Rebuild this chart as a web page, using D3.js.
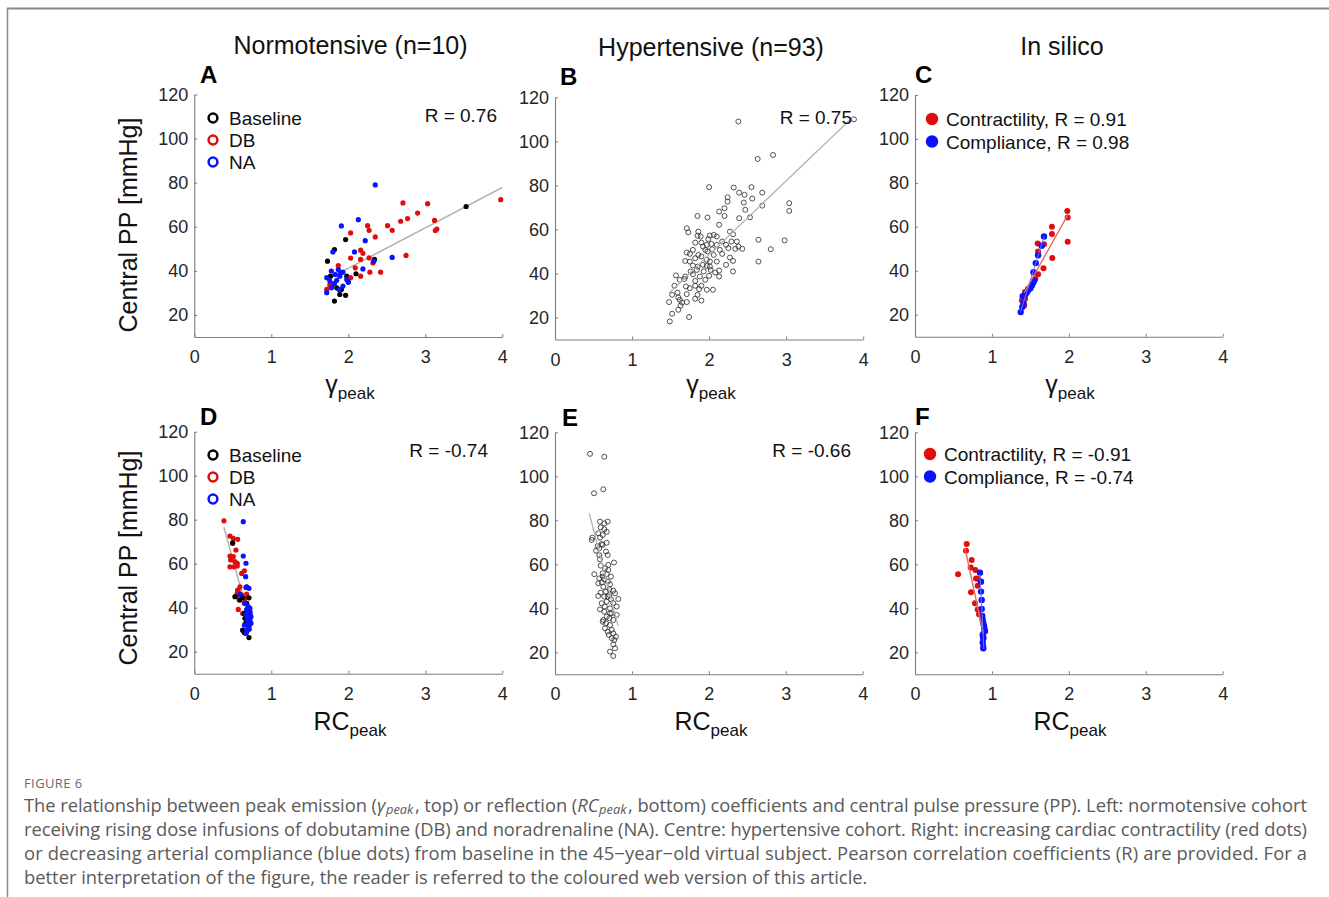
<!DOCTYPE html>
<html><head><meta charset="utf-8">
<script src="https://cdn.jsdelivr.net/npm/d3@7"></script>
<style>body{margin:0;background:#fff} svg{display:block}</style>
</head><body>
<svg id="c" width="1329" height="897"></svg>
<script>
// ---------- data ----------
const xTicks=[0,1,2,3,4];
const yTicks=[20,40,60,80,100,120];
const xDomain=[0,4];
const yDomain=[10,120];
const columnTitles=["Normotensive (n=10)","Hypertensive (n=93)","In silico"];
const panelLetters=["A","B","C","D","E","F"];
const rLabels=["R = 0.76","R = 0.75","R = -0.74","R = -0.66"];
const groupLegend=["Baseline","DB","NA"];
const silicoLegendTop=["Contractility, R = 0.91","Compliance, R = 0.98"];
const silicoLegendBottom=["Contractility, R = -0.91","Compliance, R = -0.74"];

// Panel A: gamma_peak vs central PP (normotensive)
const aBaseline=[[3.53,69.2],[1.965,54.2],[1.82,49.7],[1.73,44.4],[2.34,45.2],[2.10,38.7],[1.77,37.6],[1.98,37.6],[2.00,34.9],[1.85,32.3],[1.89,29.3],[1.965,28.9],[1.82,26.3],[1.78,33.1],[1.91,31.6]];
const aDB=[[3.98,72.3],[2.71,70.8],[3.03,70.5],[2.90,66.2],[2.68,62.5],[2.77,63.7],[3.12,62.9],[3.15,59.0],[3.13,58.3],[2.51,60.5],[2.57,58.4],[2.25,60.5],[2.27,58.4],[2.35,55.4],[2.03,57.2],[2.16,49.4],[2.19,47.9],[2.03,45.8],[2.16,45.2],[2.27,45.9],[2.32,43.6],[2.75,47.0],[2.09,41.4],[1.87,42.4],[2.28,39.4],[2.42,39.4],[2.16,37.6],[2.03,36.9],[1.72,31.6],[1.76,33.6]];
const aNA=[[2.35,79.0],[2.13,63.2],[1.91,60.4],[2.22,53.7],[1.80,48.6],[2.08,48.6],[2.57,46.1],[2.33,44.4],[2.19,40.9],[1.78,39.9],[1.87,40.6],[1.93,39.4],[1.83,38.4],[1.89,37.6],[1.98,36.1],[1.72,36.9],[1.76,35.4],[1.85,35.7],[1.78,32.3],[1.93,33.1],[1.88,31.6],[1.72,30.1],[2.00,34.9],[1.82,34.3],[1.90,39.0]];
const aFit=[[1.71,35.9],[4.0,77.8]];

// Panel B: gamma_peak vs central PP (hypertensive)
const bPoints=[[3.88,110.0],[2.38,109.0],[2.63,92.0],[2.83,93.8],[2.00,79.2],[2.32,79.0],[2.55,79.2],[2.39,76.7],[2.69,76.7],[2.46,75.7],[2.24,74.6],[2.56,74.0],[2.24,72.6],[2.45,72.2],[3.04,71.9],[2.69,70.8],[2.20,69.6],[2.47,68.9],[2.13,68.1],[3.04,68.4],[2.20,66.1],[1.85,66.1],[1.98,65.4],[2.39,65.1],[2.53,65.5],[2.13,62.1],[1.71,60.5],[1.73,58.7],[1.86,59.0],[1.85,57.1],[2.27,59.0],[2.31,57.8],[2.01,57.2],[2.06,57.5],[2.10,56.8],[1.90,54.0],[1.97,53.0],[2.03,53.4],[2.17,54.5],[2.22,53.0],[2.29,54.5],[2.36,54.5],[2.38,52.2],[2.34,51.2],[2.64,55.3],[2.98,55.0],[2.80,51.0],[2.43,51.2],[2.25,51.5],[2.10,53.0],[1.92,52.2],[1.95,50.7],[1.79,50.7],[1.71,49.5],[1.75,48.9],[1.86,48.4],[1.98,50.0],[2.06,48.4],[2.17,48.9],[2.04,51.0],[2.14,50.7],[1.69,45.7],[1.75,45.4],[1.82,46.9],[1.90,47.7],[1.97,46.2],[2.01,45.4],[2.10,45.4],[2.27,47.2],[2.31,45.7],[2.64,45.4],[1.79,43.6],[1.85,43.1],[1.92,43.9],[2.01,43.1],[2.22,43.9],[1.84,41.6],[1.76,40.9],[1.93,40.9],[2.02,41.6],[2.13,41.3],[2.31,40.9],[1.57,39.1],[1.69,38.6],[1.88,38.6],[2.00,38.9],[2.13,38.6],[1.62,37.1],[1.68,37.5],[1.82,36.6],[1.95,37.1],[1.82,34.4],[1.90,34.4],[1.55,34.4],[1.70,34.1],[1.75,33.3],[1.87,32.9],[1.97,32.6],[2.05,32.6],[1.59,31.3],[1.52,30.3],[1.71,30.6],[1.85,30.3],[1.60,29.1],[1.82,28.5],[1.90,27.7],[1.48,27.0],[1.62,28.0],[1.71,27.0],[1.65,26.8],[1.63,25.4],[1.60,23.5],[1.52,21.7],[1.74,20.2],[1.49,18.2],[1.82,54.0],[1.99,55.6],[1.89,56.8],[1.79,39.6],[2.08,40.4],[1.97,43.4]];
const bFit=[[1.48,31.1],[3.87,111.2]];

// Panel C: in silico, gamma_peak
const cContractility=[[1.98,67.2],[1.985,64.2],[1.985,53.2],[1.78,60.0],[1.78,56.7],[1.785,45.8],[1.595,52.4],[1.677,52.1],[1.60,48.8],[1.67,41.1],[1.60,38.4],[1.565,36.3],[1.54,34.5],[1.47,31.8],[1.43,30.3],[1.43,27.2],[1.39,26.5],[1.42,24.2]];
const cCompliance=[[1.374,21.2],[1.395,23.5],[1.41,25.3],[1.40,28.4],[1.43,29.0],[1.45,30.0],[1.47,31.0],[1.50,32.1],[1.52,33.3],[1.53,34.5],[1.547,35.5],[1.54,39.3],[1.57,43.5],[1.60,47.1],[1.647,51.4],[1.677,55.6]];
const cFitContractility=[[1.42,30.0],[1.985,65.3]];
const cFitCompliance=[[1.374,21.5],[1.677,55.5]];

// Panel D: RC_peak vs central PP (normotensive)
const dBaseline=[[0.498,69.5],[0.528,45.0],[0.628,44.5],[0.71,44.5],[0.68,49.5],[0.65,37.4],[0.658,35.2],[0.667,32.9],[0.628,29.8],[0.68,29.1],[0.65,28.6],[0.71,26.4],[0.68,42.0],[0.723,37.4],[0.593,43.5]];
const dDB=[[0.385,79.5],[0.463,72.6],[0.506,71.5],[0.563,71.1],[0.498,69.2],[0.541,66.2],[0.463,63.5],[0.506,63.2],[0.472,61.7],[0.528,60.9],[0.558,60.2],[0.463,58.6],[0.515,58.6],[0.558,58.9],[0.615,55.6],[0.65,56.8],[0.593,49.5],[0.563,48.0],[0.558,46.8],[0.615,45.8],[0.584,43.5],[0.658,44.2],[0.68,46.2],[0.571,39.2],[0.628,37.4],[0.701,31.4],[0.65,42.0],[0.723,33.6],[0.55,45.0],[0.57,47.7]];
const dNA=[[0.636,79.1],[0.636,63.5],[0.671,60.2],[0.667,54.1],[0.671,49.2],[0.71,48.8],[0.593,46.1],[0.658,42.0],[0.701,40.5],[0.723,39.7],[0.68,39.2],[0.714,37.4],[0.671,36.7],[0.736,35.9],[0.693,35.2],[0.723,34.4],[0.701,33.2],[0.736,32.9],[0.65,32.1],[0.71,31.4],[0.68,29.8],[0.714,30.2],[0.671,28.3],[0.723,38.2],[0.693,37.4]];
const dFit=[[0.385,76.5],[0.74,31.5]];

// Panel E: RC_peak vs central PP (hypertensive)
const ePoints=[[0.455,110.2],[0.641,108.9],[0.628,94.1],[0.507,92.3],[0.585,79.4],[0.685,79.4],[0.641,78.6],[0.594,76.8],[0.641,75.9],[0.672,74.8],[0.563,74.1],[0.62,73.3],[0.485,72.1],[0.585,72.1],[0.477,71.1],[0.672,69.8],[0.607,69.2],[0.555,68.3],[0.62,68.8],[0.576,67.3],[0.533,66.2],[0.663,65.8],[0.576,64.2],[0.685,64.2],[0.585,62.3],[0.767,60.8],[0.693,59.7],[0.594,59.4],[0.65,58.2],[0.693,57.4],[0.511,55.5],[0.62,55.9],[0.672,55.6],[0.728,54.4],[0.576,53.6],[0.641,53.2],[0.607,51.7],[0.685,52.1],[0.715,50.9],[0.563,51.4],[0.628,49.8],[0.706,48.6],[0.758,48.0],[0.663,47.6],[0.594,47.1],[0.563,45.6],[0.641,45.3],[0.706,46.1],[0.78,46.8],[0.823,44.2],[0.728,44.1],[0.672,43.0],[0.607,42.3],[0.758,42.3],[0.646,40.8],[0.715,40.0],[0.802,40.8],[0.585,39.5],[0.641,38.5],[0.737,37.7],[0.802,37.0],[0.672,36.2],[0.706,35.5],[0.628,34.7],[0.758,34.7],[0.663,33.2],[0.715,32.4],[0.65,30.9],[0.737,30.2],[0.685,29.4],[0.758,28.6],[0.698,27.9],[0.793,27.1],[0.737,26.4],[0.771,25.6],[0.758,23.6],[0.78,21.8],[0.715,20.3],[0.758,18.3],[0.62,54.4],[0.685,45.3],[0.715,37.7],[0.62,33.9]];
const eFit=[[0.446,83.2],[0.82,32.0]];

// Panel F: in silico, RC_peak
const fContractility=[[0.672,69.2],[0.663,66.2],[0.737,62.0],[0.724,58.6],[0.784,57.4],[0.56,55.5],[0.793,53.6],[0.823,53.3],[0.815,50.3],[0.728,47.3],[0.78,42.3],[0.815,39.5],[0.832,37.3],[0.888,28.6],[0.888,27.1],[0.888,22.9]];
const fCompliance=[[0.845,56.2],[0.858,52.1],[0.858,47.6],[0.867,43.8],[0.867,39.7],[0.875,36.5],[0.88,34.7],[0.888,33.2],[0.897,32.0],[0.90,30.9],[0.91,29.7],[0.88,27.9],[0.888,26.4],[0.88,24.4],[0.888,21.8]];
const fFitContractility=[[0.65,67.3],[0.888,28.6]];
const fFitCompliance=[[0.845,55.5],[0.895,21.5]];

// ---------- drawing ----------
const FONT="'Liberation Sans', Arial, Helvetica, sans-serif";
const RED="#e00d0d", BLUE="#0b12ff", BLACK="#000000", TXT="#262626";
const svg=d3.select("#c");

// frame
svg.append("line").attr("x1",7).attr("x2",1329).attr("y1",8.5).attr("y2",8.5).attr("stroke","#8a8a8a").attr("stroke-width",2);
svg.append("line").attr("x1",7.5).attr("x2",7.5).attr("y1",8).attr("y2",897).attr("stroke","#8a8a8a").attr("stroke-width",1.5);

const layout=[
  {x0:194.3,x1:502.3,yt:94.5,yb:337},
  {x0:555,x1:863.2,yt:97.3,yb:339.5},
  {x0:915,x1:1222.7,yt:95,yb:336.7},
  {x0:194.3,x1:502.3,yt:431.7,yb:673.7},
  {x0:555,x1:862.7,yt:432.3,yb:674.3},
  {x0:915,x1:1222.7,yt:432.3,yb:674.3}
];
const letterPos=[[200,83],[560,85],[915,83],[200,425],[562,426],[915,425]];

const panels=layout.map((L,i)=>{
  const x=d3.scaleLinear().domain(xDomain).range([L.x0,L.x1]);
  const y=d3.scaleLinear().domain(yDomain).range([L.yb,L.yt]);
  const g=svg.append("g");
  const ax=g.append("g").attr("transform",`translate(0,${L.yb})`)
    .call(d3.axisBottom(x).tickValues(xTicks).tickFormat(d3.format("d")).tickSizeInner(-3).tickSizeOuter(0).tickPadding(9));
  const ay=g.append("g").attr("transform",`translate(${L.x0},0)`)
    .call(d3.axisLeft(y).tickValues(yTicks).tickFormat(d3.format("d")).tickSizeInner(-3).tickSizeOuter(0).tickPadding(6));
  [ax,ay].forEach(a=>{
    a.select(".domain").attr("stroke","#7d7d7d").attr("stroke-width",1.1);
    a.selectAll(".tick line").attr("stroke","#7d7d7d");
    a.selectAll(".tick text").attr("font-family",FONT).attr("font-size",18).attr("fill",TXT);
  });
  ax.selectAll(".tick text").attr("dy","0.95em");
  g.append("text").attr("x",letterPos[i][0]).attr("y",letterPos[i][1]).attr("font-family",FONT)
    .attr("font-weight","bold").attr("font-size",24).attr("fill","#000").text(panelLetters[i]);
  return {g,x,y};
});

function fitLine(p,pts,color,w){
  p.g.append("line").attr("x1",p.x(pts[0][0])).attr("y1",p.y(pts[0][1]))
    .attr("x2",p.x(pts[1][0])).attr("y2",p.y(pts[1][1])).attr("stroke",color).attr("stroke-width",w);
}
function dots(p,pts,color,r){
  p.g.append("g").selectAll("circle").data(pts).join("circle")
    .attr("cx",d=>p.x(d[0])).attr("cy",d=>p.y(d[1])).attr("r",r).attr("fill",color);
}
function rings(p,pts){
  p.g.append("g").selectAll("circle").data(pts).join("circle")
    .attr("cx",d=>p.x(d[0])).attr("cy",d=>p.y(d[1])).attr("r",2.5)
    .attr("fill","none").attr("stroke","#333").attr("stroke-width",0.85);
}
const GRAY="#b5b5b5";
// A
fitLine(panels[0],aFit,GRAY,1.6);
dots(panels[0],aBaseline,BLACK,2.6); dots(panels[0],aDB,RED,2.6); dots(panels[0],aNA,BLUE,2.6);
// B
rings(panels[1],bPoints); fitLine(panels[1],bFit,GRAY,1.3);
// C
dots(panels[2],cContractility,RED,3.0); dots(panels[2],cCompliance,BLUE,3.2);
fitLine(panels[2],cFitContractility,"#ea6a5a",1.4); fitLine(panels[2],cFitCompliance,"#6f78ff",1.0);
// D
fitLine(panels[3],dFit,GRAY,1.6);
dots(panels[3],dDB,RED,2.6); dots(panels[3],dBaseline,BLACK,2.6); dots(panels[3],dNA,BLUE,2.6);
// E
rings(panels[4],ePoints); fitLine(panels[4],eFit,GRAY,1.3);
// F
dots(panels[5],fContractility,RED,3.0); dots(panels[5],fCompliance,BLUE,3.2);
fitLine(panels[5],fFitContractility,"#ea6a5a",1.4); fitLine(panels[5],fFitCompliance,"#6f78ff",1.0);

// legends
const groupColors=[BLACK,RED,BLUE];
function groupLeg(x,y0){
  groupLegend.forEach((t,k)=>{
    svg.append("circle").attr("cx",x).attr("cy",y0+k*22).attr("r",4.4).attr("fill","none").attr("stroke",groupColors[k]).attr("stroke-width",2.5);
    svg.append("text").attr("x",x+16).attr("y",y0+k*22+7).attr("font-family",FONT).attr("font-size",19).attr("fill","#111").text(t);
  });
}
groupLeg(213,118); groupLeg(213,455);
function silicoLeg(x,y0,labels){
  labels.forEach((t,k)=>{
    svg.append("circle").attr("cx",x).attr("cy",y0+k*22.5).attr("r",6.2).attr("fill",k?BLUE:RED);
    svg.append("text").attr("x",x+14).attr("y",y0+k*22.5+7).attr("font-family",FONT).attr("font-size",19).attr("fill","#111").text(t);
  });
}
silicoLeg(932,119,silicoLegendTop); silicoLeg(930,454,silicoLegendBottom);
const rPos=[[497,122],[852,124],[488,457],[851,457]];
rLabels.forEach((t,k)=>svg.append("text").attr("x",rPos[k][0]).attr("y",rPos[k][1]).attr("text-anchor","end")
  .attr("font-family",FONT).attr("font-size",19).attr("fill","#111").text(t));

// column titles
const titlePos=[[350.5,54],[711,56],[1062,55]];
columnTitles.forEach((t,k)=>svg.append("text").attr("x",titlePos[k][0]).attr("y",titlePos[k][1]).attr("text-anchor","middle")
  .attr("font-family",FONT).attr("font-size",25).attr("fill","#111").text(t));

// y labels
[225,558].forEach(cy=>svg.append("text").attr("transform",`translate(137,${cy}) rotate(-90)`).attr("text-anchor","middle")
  .attr("font-family",FONT).attr("font-size",25).attr("fill","#111").text("Central PP [mmHg]"));

// x labels
[[350,393,"γ"],[711,393,"γ"],[1070,393,"γ"],[350,730,"RC"],[711,730,"RC"],[1070,730,"RC"]].forEach(([cx,by,s])=>{
  const t=svg.append("text").attr("x",cx).attr("y",by).attr("text-anchor","middle").attr("font-family",FONT).attr("font-size",25).attr("fill","#111");
  t.append("tspan").text(s);
  t.append("tspan").attr("font-size",17).attr("dy",6).text("peak");
});

// caption
const CF="'Open Sans', sans-serif";
const CAPCOL="#5a5a5a";
svg.append("text").attr("x",24).attr("y",788).attr("font-family",CF).attr("font-size",13).attr("letter-spacing",0.4).attr("fill","#6a6a6a").text("FIGURE 6");
const capLine1=[["The relationship between peak emission ("],["γ","i"],["peak","s"],[", top) or reflection ("],["RC","i"],["peak","s"],[", bottom) coefficients and central pulse pressure (PP). Left: normotensive cohort"]];
const capLines=[
  "receiving rising dose infusions of dobutamine (DB) and noradrenaline (NA). Centre: hypertensive cohort. Right: increasing cardiac contractility (red dots)",
  "or decreasing arterial compliance (blue dots) from baseline in the 45−year−old virtual subject. Pearson correlation coefficients (R) are provided. For a",
  "better interpretation of the figure, the reader is referred to the coloured web version of this article."
];
const capY=[812,836,860,884];
const rest=capLines.map((s,k)=>svg.append("text").attr("x",24).attr("y",capY[k+1]).attr("font-family",CF).attr("font-size",16).attr("fill",CAPCOL).text(s));
const fs=16*844/rest[2].node().getComputedTextLength();
rest.forEach(t=>t.attr("font-size",fs));
rest.slice(0,2).forEach(t=>t.attr("textLength",1283).attr("lengthAdjust","spacing"));
// first line: separate pieces so that subscripts sit cleanly, then justified
const pieces=capLine1.map(([s,f])=>{
  const t=svg.append("text").attr("y",capY[0]+(f==="s"?1.5:0)).attr("font-family",CF).attr("fill",CAPCOL)
    .attr("font-size",f==="s"?fs*0.7:fs).text(s);
  if(f) t.attr("font-style","italic");
  return {t,f,w:t.node().getComputedTextLength()};
});
const gapAfter=pieces.map(p=>p.f==="i"?0.5:(p.f==="s"?1.5:0));
const natural=d3.sum(pieces,p=>p.w)+d3.sum(gapAfter);
const extra=1283-natural;
const plainW=d3.sum(pieces.filter(p=>!p.f),p=>p.w);
let cx=24;
pieces.forEach((p,k)=>{
  let w=p.w;
  if(!p.f){ w=p.w+extra*p.w/plainW; p.t.attr("textLength",w).attr("lengthAdjust","spacing"); }
  p.t.attr("x",cx);
  cx+=w+gapAfter[k];
});
</script>
</body></html>
